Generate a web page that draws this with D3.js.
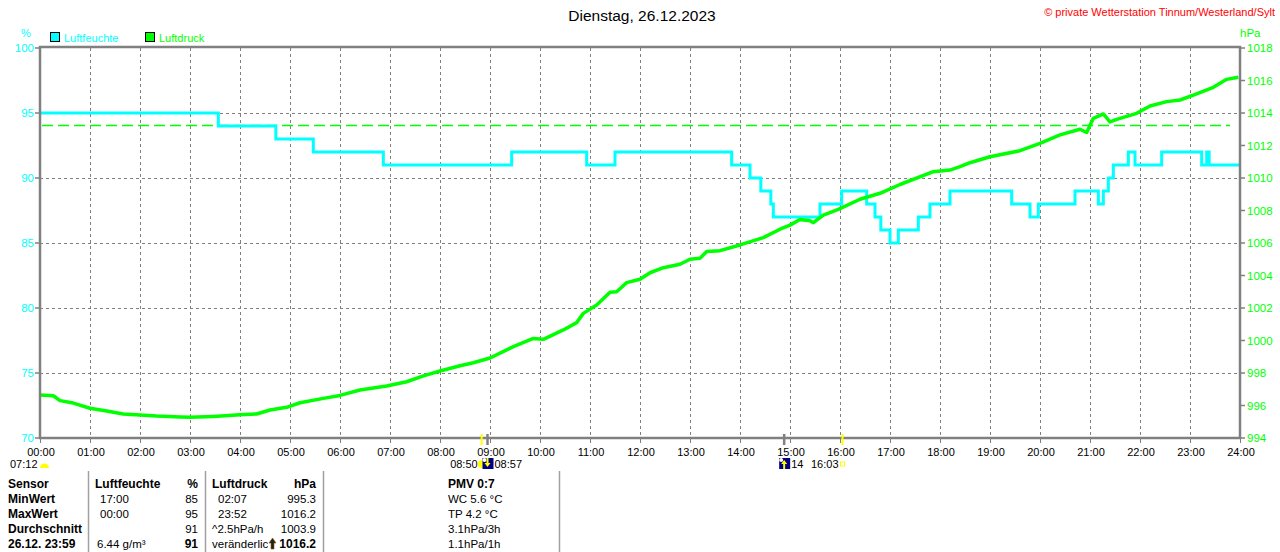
<!DOCTYPE html>
<html>
  <head>
    <meta charset="utf-8">
    <script src="https://d3js.org/d3.v7.min.js"></script>
    <style>
      body { margin: 0; background: #fff; }
      text { font-family: 'Liberation Sans', Arial, sans-serif; }
    </style>
    <title>Dienstag, 26.12.2023</title>
  </head>
  <body>
    <svg></svg>

    <script type="text/javascript">
      // humidity (%), step series
      const humTimes = ['00:00', '03:34', '04:43', '05:28', '06:52', '09:26', '10:56', '11:30',
        '13:50', '14:12', '14:25', '14:37', '14:40', '15:36', '16:02', '16:32', '16:42', '16:49',
        '17:00', '17:10', '17:34', '17:48', '18:12', '19:26', '19:48', '19:58', '20:42', '21:10',
        '21:16', '21:22', '21:28', '21:46', '21:54', '22:26', '23:14', '23:20', '23:23', '24:00']
      const humValues = [95, 94, 93, 92, 91, 92, 91, 92,
        91, 90, 89, 88, 87, 88, 89, 88, 87, 86,
        85, 86, 87, 88, 89, 88, 87, 88, 89, 88,
        89, 90, 91, 92, 91, 92, 91, 92, 91, 91]

      // pressure (hPa)
      const presTimes = ['00:00', '00:16', '00:24', '00:40', '01:00', '01:20', '01:40', '02:00',
        '02:20', '02:48', '03:00', '03:28', '04:00', '04:20', '04:36', '04:56', '05:12', '05:40',
        '06:00', '06:24', '06:56', '07:20', '07:40', '08:00', '08:24', '08:40', '09:00', '09:28',
        '09:52', '10:04', '10:28', '10:44', '10:52', '11:08', '11:24', '11:32', '11:44', '12:00',
        '12:12', '12:28', '12:48', '13:00', '13:12', '13:20', '13:36', '14:00', '14:28', '14:48',
        '15:00', '15:12', '15:24', '15:28', '15:40', '15:58', '16:24', '16:48', '17:12', '17:52',
        '18:12', '18:24', '18:36', '19:00', '19:36', '20:00', '20:24', '20:48', '20:56', '21:04',
        '21:16', '21:24', '21:32', '21:56', '22:12', '22:32', '22:48', '23:04', '23:28', '23:44',
        '23:58']
      const presValues = [996.65, 996.6, 996.3, 996.15, 995.83, 995.66, 995.48, 995.42,
        995.35, 995.29, 995.27, 995.33, 995.43, 995.48, 995.72, 995.89, 996.17, 996.44,
        996.62, 996.95, 997.2, 997.46, 997.82, 998.12, 998.45, 998.63, 998.92, 999.62,
        1000.13, 1000.07, 1000.65, 1001.1, 1001.67, 1002.18, 1002.97, 1003.0, 1003.56, 1003.77,
        1004.17, 1004.48, 1004.69, 1005.0, 1005.06, 1005.47, 1005.53, 1005.88, 1006.33, 1006.85,
        1007.1, 1007.45, 1007.37, 1007.25, 1007.72, 1008.07, 1008.69, 1009.06, 1009.6, 1010.39,
        1010.49, 1010.7, 1010.94, 1011.31, 1011.68, 1012.13, 1012.65, 1013.0, 1012.8, 1013.67,
        1013.94, 1013.45, 1013.61, 1013.98, 1014.43, 1014.7, 1014.8, 1015.1, 1015.58, 1016.07,
        1016.2]

      const refPressure = 1013.25

      const hourLabels = ['00:00', '01:00', '02:00', '03:00', '04:00', '05:00', '06:00', '07:00',
        '08:00', '09:00', '10:00', '11:00', '12:00', '13:00', '14:00', '15:00', '16:00', '17:00',
        '18:00', '19:00', '20:00', '21:00', '22:00', '23:00', '24:00']
      const humTicks = [70, 75, 80, 85, 90, 95, 100]
      const presTicks = [994, 996, 998, 1000, 1002, 1004, 1006, 1008, 1010, 1012, 1014, 1016, 1018]

      // sun / moon events
      const sunEvents = ['08:50', '16:03']
      const moonEvents = ['08:57', '14:53']

      // table below the chart
      const tableRows = [
        ['Sensor', 'Luftfeuchte', '%', 'Luftdruck', 'hPa', 'PMV 0:7'],
        ['MinWert', '17:00', '85', '02:07', '995.3', 'WC 5.6 °C'],
        ['MaxWert', '00:00', '95', '23:52', '1016.2', 'TP 4.2 °C'],
        ['Durchschnitt', '', '91', '^2.5hPa/h', '1003.9', '3.1hPa/3h'],
        ['26.12.  23:59', '6.44 g/m³', '91', 'veränderlich', '1016.2', '1.1hPa/1h']
      ]

      const width = 1280
      const height = 552
      const margin = {left: 40, right: 40, top: 48, bottom: 114}
      const cyan = '#00ffff'
      const green = '#00ff00'
      const gray = '#808080'

      const toHours = s => {
        const [h, m] = s.split(':').map(Number)
        return h + m / 60
      }

      const svg = d3.select('svg')
        .attr('width', width)
        .attr('height', height)
        .style('display', 'block')

      const x = d3.scaleLinear()
        .domain([0, 24])
        .range([margin.left, width - margin.right])
      const yHum = d3.scaleLinear()
        .domain([70, 100])
        .range([height - margin.bottom, margin.top])
      const yPres = d3.scaleLinear()
        .domain([994, 1018])
        .range([height - margin.bottom, margin.top])

      const plotTop = margin.top
      const plotBottom = height - margin.bottom

      // title and copyright
      svg.append('text')
        .attr('x', 642).attr('y', 21)
        .attr('text-anchor', 'middle')
        .attr('font-size', 15.5)
        .text('Dienstag, 26.12.2023')

      svg.append('text')
        .attr('x', 1275).attr('y', 16)
        .attr('text-anchor', 'end')
        .attr('font-size', 11)
        .attr('fill', '#ff0000')
        .text('© private Wetterstation Tinnum/Westerland/Sylt')

      // unit labels
      svg.append('text')
        .attr('x', 26).attr('y', 37)
        .attr('text-anchor', 'middle')
        .attr('font-size', 11)
        .attr('fill', cyan)
        .text('%')
      svg.append('text')
        .attr('x', 1240).attr('y', 37)
        .attr('font-size', 11.5)
        .attr('fill', green)
        .text('hPa')

      // legend
      const legend = svg.append('g')
      ;[{label: 'Luftfeuchte', color: cyan, x: 50}, {label: 'Luftdruck', color: green, x: 145}]
        .forEach(d => {
          legend.append('rect')
            .attr('x', d.x + 0.5).attr('y', 32.5)
            .attr('width', 9).attr('height', 9)
            .attr('fill', d.color)
            .attr('stroke', '#000')
          legend.append('text')
            .attr('x', d.x + 14).attr('y', 42)
            .attr('font-size', 11)
            .attr('fill', d.color)
            .text(d.label)
        })

      // grid
      const grid = svg.append('g')
        .attr('stroke', gray)
        .attr('stroke-width', 1)
        .attr('stroke-dasharray', '3,3')

      grid.selectAll('.vgrid')
        .data(hourLabels.slice(1, -1))
        .enter()
        .append('line')
          .attr('x1', d => Math.round(x(toHours(d))) + 0.5)
          .attr('x2', d => Math.round(x(toHours(d))) + 0.5)
          .attr('y1', plotTop)
          .attr('y2', plotBottom)

      grid.selectAll('.hgrid')
        .data(humTicks.slice(1, -1))
        .enter()
        .append('line')
          .attr('x1', margin.left)
          .attr('x2', width - margin.right)
          .attr('y1', d => Math.round(yHum(d)) + 0.5)
          .attr('y2', d => Math.round(yHum(d)) + 0.5)

      // standard pressure reference line
      svg.append('line')
        .attr('x1', margin.left + 2)
        .attr('x2', x(23.8))
        .attr('y1', Math.round(yPres(refPressure)) + 0.5)
        .attr('y2', Math.round(yPres(refPressure)) + 0.5)
        .attr('stroke', green)
        .attr('stroke-width', 1.5)
        .attr('stroke-dasharray', '11,5')

      // humidity line
      const humData = humTimes.map((t, i) => ({t: toHours(t), v: humValues[i]}))
      svg.append('path')
        .datum(humData)
        .attr('fill', 'none')
        .attr('stroke', cyan)
        .attr('stroke-width', 3)
        .attr('d', d3.line()
          .x(d => x(d.t))
          .y(d => yHum(d.v))
          .curve(d3.curveStepAfter))

      // pressure line
      const presData = presTimes.map((t, i) => ({t: toHours(t), v: presValues[i]}))
      svg.append('path')
        .datum(presData)
        .attr('fill', 'none')
        .attr('stroke', green)
        .attr('stroke-width', 3.5)
        .attr('stroke-linejoin', 'round')
        .attr('d', d3.line()
          .x(d => x(d.t))
          .y(d => yPres(d.v)))

      // frame
      svg.append('rect')
        .attr('x', margin.left)
        .attr('y', plotTop - 1)
        .attr('width', width - margin.left - margin.right)
        .attr('height', plotBottom - plotTop + 1)
        .attr('fill', 'none')
        .attr('stroke', gray)
        .attr('stroke-width', 2.5)

      // left axis
      const leftAxis = svg.append('g')
      leftAxis.selectAll('line')
        .data(humTicks)
        .enter()
        .append('line')
          .attr('x1', margin.left - 5).attr('x2', margin.left)
          .attr('y1', d => yHum(d)).attr('y2', d => yHum(d))
          .attr('stroke', gray)
          .attr('stroke-width', 1.5)
      leftAxis.selectAll('text')
        .data(humTicks)
        .enter()
        .append('text')
          .attr('x', margin.left - 6)
          .attr('y', d => yHum(d) + 4)
          .attr('text-anchor', 'end')
          .attr('font-size', 11.5)
          .attr('fill', cyan)
          .text(d => d)

      // right axis
      const rightAxis = svg.append('g')
      rightAxis.selectAll('line')
        .data(presTicks)
        .enter()
        .append('line')
          .attr('x1', width - margin.right).attr('x2', width - margin.right + 5)
          .attr('y1', d => yPres(d)).attr('y2', d => yPres(d))
          .attr('stroke', gray)
          .attr('stroke-width', 1.5)
      rightAxis.selectAll('text')
        .data(presTicks)
        .enter()
        .append('text')
          .attr('x', width - margin.right + 7)
          .attr('y', d => yPres(d) + 4)
          .attr('font-size', 11.5)
          .attr('fill', green)
          .text(d => d)

      // bottom axis
      const bottomAxis = svg.append('g')
      bottomAxis.selectAll('line')
        .data(hourLabels)
        .enter()
        .append('line')
          .attr('x1', d => Math.round(x(toHours(d))) + 0.5)
          .attr('x2', d => Math.round(x(toHours(d))) + 0.5)
          .attr('y1', plotBottom)
          .attr('y2', plotBottom + 5)
          .attr('stroke', gray)
      bottomAxis.selectAll('text')
        .data(hourLabels)
        .enter()
        .append('text')
          .attr('x', d => x(toHours(d)) + 1)
          .attr('y', plotBottom + 18)
          .attr('text-anchor', 'middle')
          .attr('font-size', 11)
          .text(d => d)

      // sun events: yellow marks
      svg.selectAll('.sun_mark')
        .data(sunEvents)
        .enter()
        .append('line')
          .attr('class', 'sun_mark')
          .attr('x1', d => x(toHours(d)))
          .attr('x2', d => x(toHours(d)))
          .attr('y1', plotBottom - 4)
          .attr('y2', plotBottom + 7)
          .attr('stroke', '#ffff00')
          .attr('stroke-width', 2)

      // moon events: gray marks
      svg.selectAll('.moon_mark')
        .data(moonEvents)
        .enter()
        .append('line')
          .attr('class', 'moon_mark')
          .attr('x1', d => x(toHours(d)))
          .attr('x2', d => x(toHours(d)))
          .attr('y1', plotBottom - 4)
          .attr('y2', plotBottom + 7)
          .attr('stroke', gray)
          .attr('stroke-width', 2.5)

      const evY = plotBottom + 30
      const sunIcon = (g, cx) => {
        g.append('circle')
          .attr('cx', cx).attr('cy', evY - 4)
          .attr('r', 4)
          .attr('fill', '#ffff00')
      }
      const moonIcon = (g, cx, up) => {
        g.append('rect')
          .attr('x', cx - 5).attr('y', evY - 10)
          .attr('width', 11).attr('height', 11)
          .attr('fill', '#000080')
        g.append('circle')
          .attr('cx', cx - 3).attr('cy', evY - 8)
          .attr('r', 2)
          .attr('fill', '#ffffff')
        g.append('path')
          .attr('d', up
            ? `M${cx},${evY - 8}L${cx + 3},${evY - 4}L${cx + 1},${evY - 4}L${cx + 1},${evY + 1}L${cx - 1},${evY + 1}L${cx - 1},${evY - 4}L${cx - 3},${evY - 4}Z`
            : `M${cx},${evY - 1}L${cx + 3},${evY - 5}L${cx + 1},${evY - 5}L${cx + 1},${evY - 10}L${cx - 1},${evY - 10}L${cx - 1},${evY - 5}L${cx - 3},${evY - 5}Z`)
          .attr('fill', '#ffff00')
      }

      const ev = svg.append('g').attr('font-size', 11)

      // 07:12 label at the left
      ev.append('text').attr('x', 10).attr('y', evY).text('07:12')
      ev.append('path')
        .attr('d', `M40,${evY}A4.5,4.5 0 0 1 49,${evY}Z`)
        .attr('fill', '#ffff00')

      // morning
      const sunrise = x(toHours(sunEvents[0]))
      const moonset = x(toHours(moonEvents[0]))
      ev.append('text').attr('x', sunrise - 4).attr('y', evY)
        .attr('text-anchor', 'end').text(sunEvents[0])
      sunIcon(ev, sunrise)
      moonIcon(ev, moonset, false)
      ev.append('text').attr('x', moonset + 7).attr('y', evY).text(moonEvents[0])

      // afternoon
      const moonrise = x(toHours(moonEvents[1]))
      const sunset = x(toHours(sunEvents[1]))
      moonIcon(ev, moonrise, true)
      ev.append('text').attr('x', moonrise + 7).attr('y', evY).text(moonEvents[1].slice(0, 2))
      ev.append('text').attr('x', sunset - 4).attr('y', evY)
        .attr('text-anchor', 'end').text(sunEvents[1])
      ev.append('rect')
        .attr('x', sunset - 2).attr('y', evY - 6)
        .attr('width', 4).attr('height', 4)
        .attr('fill', 'none')
        .attr('stroke', '#ffff00')

      // table separators
      svg.selectAll('.sep')
        .data([88.5, 205.5, 323.5, 559.5])
        .enter()
        .append('line')
          .attr('x1', d => d).attr('x2', d => d)
          .attr('y1', 471).attr('y2', height)
          .attr('stroke', '#a0a0a0')
          .attr('stroke-width', 1.5)

      // table text
      const colX = [8, 100, 198, 218, 316, 448]
      const colAnchor = ['start', 'start', 'end', 'start', 'end', 'start']
      const rowY = r => 488 + r * 15

      tableRows.forEach((row, r) => {
        row.forEach((cell, c) => {
          const bold = r === 0 || c === 0 || (r === 4 && (c === 2 || c === 4))
          let cx = colX[c]
          if (r === 0 && c === 1) cx = 95
          if (r === 0 && c === 3) cx = 212
          if (r === 3 && c === 3) cx = 212
          if (r === 4 && c === 1) cx = 97
          if (r === 4 && c === 3) cx = 212
          svg.append('text')
            .attr('x', cx)
            .attr('y', rowY(r))
            .attr('text-anchor', colAnchor[c])
            .attr('font-size', bold ? 12 : 11.5)
            .attr('font-weight', bold ? 'bold' : 'normal')
            .text(cell)
        })
      })

      // trend arrow in the last row
      const ay = rowY(4)
      svg.append('rect')
        .attr('x', 268).attr('y', ay - 11)
        .attr('width', 9).attr('height', 12)
        .attr('fill', '#ffffff')
      svg.append('path')
        .attr('d', `M272.5,${ay - 10}L276,${ay - 5}L274,${ay - 5}L274,${ay + 1}L271,${ay + 1}L271,${ay - 5}L269,${ay - 5}Z`)
        .attr('fill', '#202020')
        .attr('stroke', '#8b5a00')
        .attr('stroke-width', 0.6)
    </script>
  </body>
</html>
